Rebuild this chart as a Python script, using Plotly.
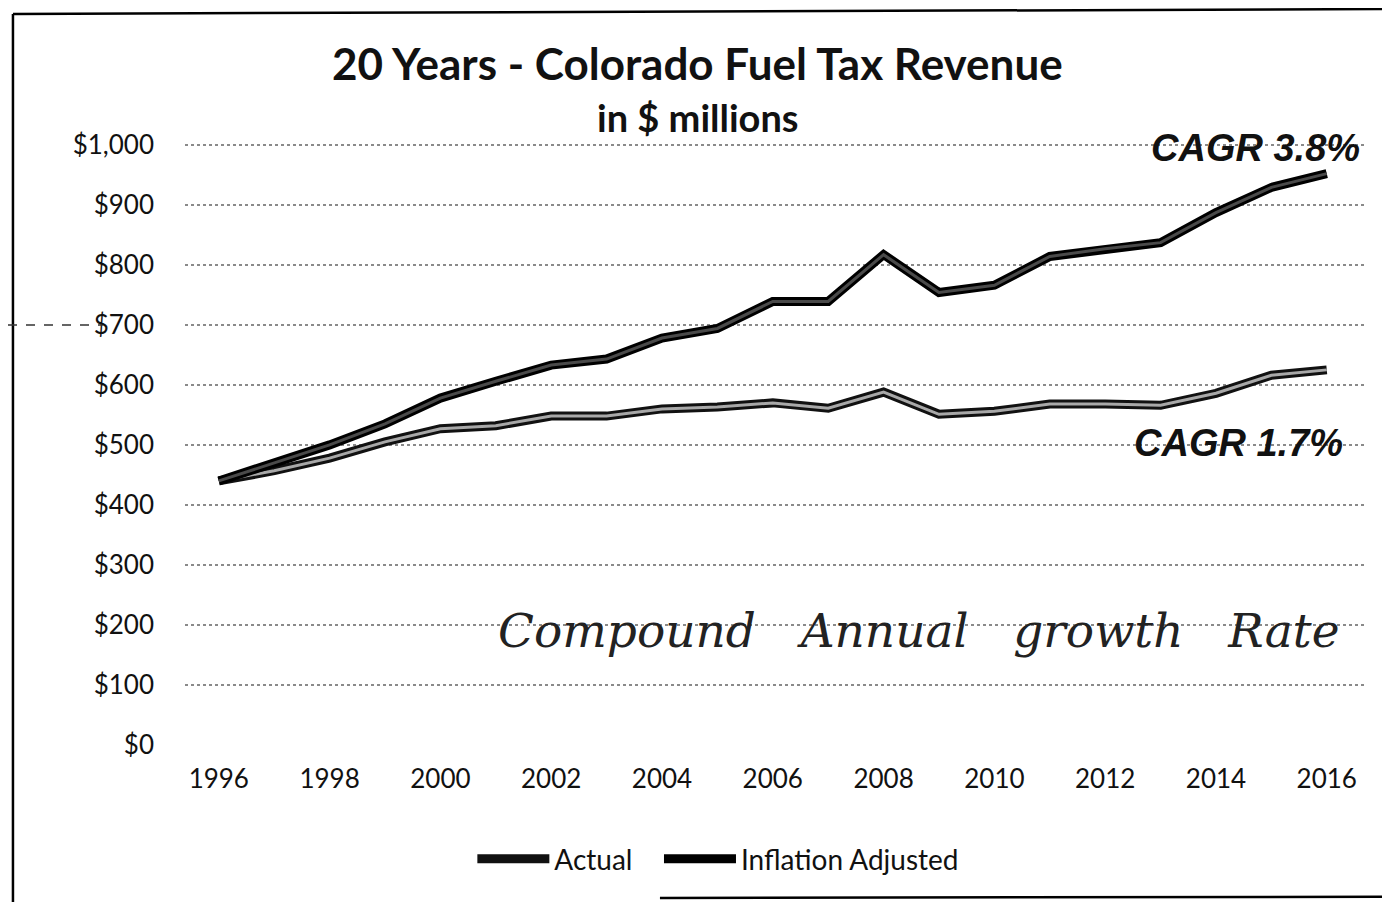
import plotly.graph_objects as go

years = list(range(1996, 2017))
actual = [440, 457, 478, 505, 527, 532, 548, 548, 560, 563, 570, 561, 588, 551, 556, 568, 568, 566, 586, 616, 625]
inflation_adjusted = [440, 470, 500, 535, 578, 606, 633, 643, 678, 694, 739, 739, 817, 754, 766, 814, 827, 837, 887, 929, 952]
y_ticks = [0, 100, 200, 300, 400, 500, 600, 700, 800, 900, 1000]
y_labels = ["$0", "$100", "$200", "$300", "$400", "$500", "$600", "$700", "$800", "$900", "$1,000"]
x_ticks = list(range(1996, 2017, 2))

fig = go.Figure()
# Actual: dark outline, grey core
fig.add_trace(go.Scatter(x=years, y=actual, mode="lines", name="Actual\u00a0\u00a0\u00a0", legendgroup="a",
                         line=dict(color="#111111", width=9)))
fig.add_trace(go.Scatter(x=years, y=actual, mode="lines", showlegend=False, legendgroup="a",
                         hoverinfo="skip", line=dict(color="#a8a8a8", width=3)))
# Inflation adjusted: dark outline, darker core
fig.add_trace(go.Scatter(x=years, y=inflation_adjusted, mode="lines", name="Inflation Adjusted", legendgroup="i",
                         line=dict(color="#000000", width=9)))
fig.add_trace(go.Scatter(x=years, y=inflation_adjusted, mode="lines", showlegend=False, legendgroup="i",
                         hoverinfo="skip", line=dict(color="#4a4a4a", width=3)))

font_main = "Lato, Open Sans, sans-serif"

fig.update_layout(
    width=1382, height=894,
    paper_bgcolor="white", plot_bgcolor="white",
    margin=dict(l=177, r=25, t=135, b=157),
    font=dict(family=font_main, size=26, color="#111111"),
    xaxis=dict(range=[1995.39, 2016.69], tickmode="array", tickvals=x_ticks,
               ticktext=[str(t) for t in x_ticks], showgrid=False, zeroline=False,
               showline=False, ticks="", tickfont=dict(size=26), ticklabelstandoff=16,
               automargin=False),
    yaxis=dict(range=[0, 1003], tickmode="array", tickvals=y_ticks, ticktext=y_labels,
               showgrid=True, gridcolor="#8a8a8a", gridwidth=1.5, griddash="dot",
               zeroline=False, showline=False, ticks="", tickfont=dict(size=26),
               ticklabelstandoff=30, automargin=False),
    legend=dict(orientation="h", x=0.452, xanchor="center", y=-0.148, yanchor="top",
                font=dict(size=28), itemwidth=72),
    showlegend=True,
)

fig.add_annotation(text="<b>20 Years - Colorado Fuel Tax Revenue</b>", xref="paper", yref="paper",
                   x=0.4347, xanchor="center", y=1.133, yanchor="middle",
                   showarrow=False, font=dict(size=44, family=font_main, color="#111111"))
fig.add_annotation(text="<b>in $ millions</b>", xref="paper", yref="paper",
                   x=0.4347, xanchor="center", y=1.043, yanchor="middle",
                   showarrow=False, font=dict(size=38, family=font_main, color="#111111"))
fig.add_annotation(text="<b><i>CAGR 3.8%</i></b>", xref="paper", yref="paper",
                   x=0.9975, xanchor="right", y=0.9917, yanchor="middle",
                   showarrow=False, font=dict(size=38, family="Liberation Sans, Arial", color="#111111"))
fig.add_annotation(text="<b><i>CAGR 1.7%</i></b>", xref="paper", yref="paper",
                   x=0.983, xanchor="right", y=0.5017, yanchor="middle",
                   showarrow=False, font=dict(size=38, family="Liberation Sans, Arial", color="#111111"))
fig.add_annotation(text="<i>Compound   Annual   growth   Rate</i>", x=2001.0, xanchor="left", y=191,
                   yanchor="middle", showarrow=False,
                   font=dict(size=47, family="DejaVu Serif", color="#222222"))

# chart frame (scan border)
fig.add_shape(type="line", xref="paper", yref="paper", x0=-0.1458, x1=1.03, y0=1.2143, y1=1.2226,
              line=dict(color="black", width=2.5))
fig.add_shape(type="line", xref="paper", yref="paper", x0=-0.1458, x1=-0.1458, y0=1.2143, y1=-0.27,
              line=dict(color="black", width=2.5))
fig.add_shape(type="line", xref="paper", yref="paper", x0=0.4025, x1=1.03, y0=-0.254, y1=-0.252,
              line=dict(color="black", width=2.5))
fig.add_shape(type="line", xref="paper", yref="paper", x0=-0.15, x1=-0.07, y0=0.6978, y1=0.6978,
              line=dict(color="#333333", width=1.5, dash="dash"))

fig.write_html("out.html")
